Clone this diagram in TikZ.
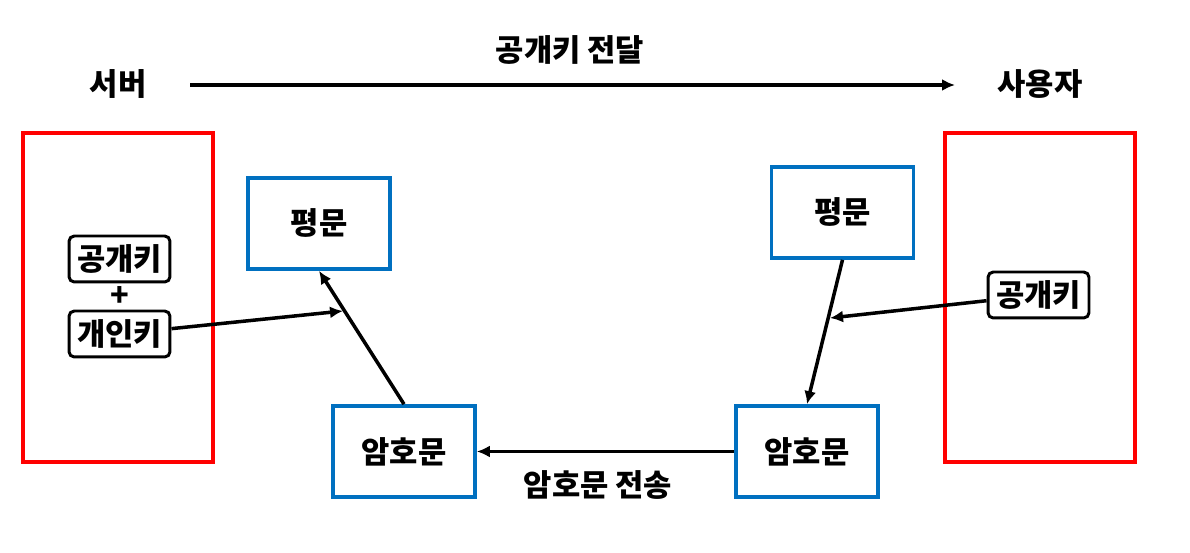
\documentclass[tikz,border=0pt]{standalone}
\usepackage{fontspec}
\setmainfont{Noto Sans CJK KR}
\usetikzlibrary{positioning,arrows.meta}
\definecolor{boxblue}{RGB}{0,112,192}
\tikzset{
side/.style={draw=red,line width=2.1pt,minimum width=3.8cm,minimum height=6.58cm,inner sep=0pt},
msgbox/.style={draw=boxblue,line width=2.1pt,minimum width=2.84cm,minimum height=1.82cm,inner sep=0pt},
keybox/.style={draw=black,line width=1.7pt,rounded corners=3pt,minimum width=2.02cm,minimum height=0.92cm,inner sep=0pt},
label/.style={inner sep=0pt},
flow/.style={-{Latex[length=2.6mm,width=2.4mm]},line width=2pt,black}
}
\begin{document}
\begin{tikzpicture}[x=0.02cm,y=-0.02cm,every node/.style={font=\fontsize{17.5}{20}\selectfont\bfseries}]
\useasboundingbox (0,0) rectangle (1190,553);
% server and user
\node[side] (srv) at (118,297.5) {};
\node[side] (usr) at (1040,297.5) {};
\node[label] (srvname) at (118,84) {서버};
\node[label] (usrname) at (1040,84) {사용자};
\coordinate (sendA) at (190,85);
\coordinate (sendB) at (955,85);
\node[label] (sendtxt) at (570,50) {공개키 전달};
\draw[flow] (sendA) -- (sendB);
% keys
\node[keybox] (pubL) at (119.5,259) {공개키};
\node[label] (plus) at (119.5,297) {+};
\node[keybox] (privL) at (119.5,334) {개인키};
\node[keybox] (pubR) at (1038.5,295) {공개키};
% messages
\node[msgbox] (plainL) at (319,223.5) {평문};
\node[msgbox] (cipherL) at (404,451.5) {암호문};
\node[msgbox] (plainR) at (842.5,212.5) {평문};
\node[msgbox] (cipherR) at (807,451.5) {암호문};
\node[label] (sendmsg) at (598,485) {암호문 전송};
% connectors
\coordinate (decin) at (343,311);
\coordinate (encin) at (830,318);
\draw[flow] (privL) -- (decin);
\draw[flow] (cipherL.north) -- (plainL.south);
\draw[flow] (plainR.south) -- (cipherR.north);
\draw[flow] (pubR) -- (encin);
\draw[flow] (cipherR) -- (cipherL);
\end{tikzpicture}
\end{document}
